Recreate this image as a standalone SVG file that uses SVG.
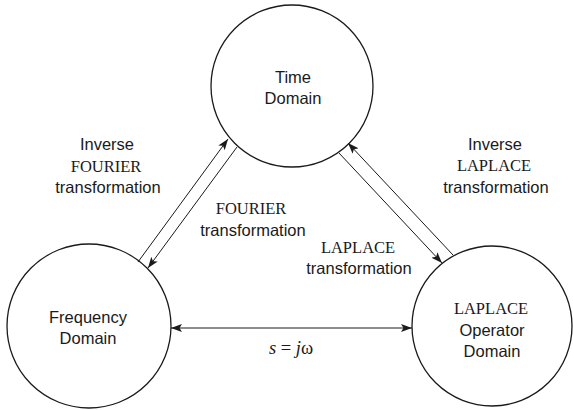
<svg xmlns="http://www.w3.org/2000/svg" width="573" height="410" viewBox="0 0 573 410">
  <style>
    .node { fill: #fff; stroke: #1a1a1a; stroke-width: 1.3; }
    .edge { stroke: #1a1a1a; stroke-width: 1; fill: none; }
    .sans { font-family: "Liberation Sans", Arial, sans-serif; font-size: 16.5px; fill: #1a1a1a; text-anchor: middle; }
    .serif { font-family: "Liberation Serif", "Times New Roman", serif; font-size: 16.5px; fill: #1a1a1a; text-anchor: middle; }
    .math { font-family: "Liberation Serif", "Times New Roman", serif; font-size: 18.5px; fill: #1a1a1a; text-anchor: middle; }
  </style>
  <defs>
    <marker id="arrow" viewBox="0 0 11 8" refX="11" refY="4" markerWidth="11" markerHeight="8" markerUnits="userSpaceOnUse" orient="auto-start-reverse">
      <path d="M0,0 L11,4 L0,8 L2.5,4 z" fill="#1a1a1a"/>
    </marker>
  </defs>
  <rect width="573" height="410" fill="#fff"/>

  <g id="time-domain">
    <circle class="node" cx="292" cy="86" r="81"/>
    <text class="sans" x="293" y="83">Time</text>
    <text class="sans" x="293" y="104">Domain</text>
  </g>

  <g id="frequency-domain">
    <circle class="node" cx="89" cy="326" r="82"/>
    <text class="sans" x="88" y="323">Frequency</text>
    <text class="sans" x="88" y="344">Domain</text>
  </g>

  <g id="laplace-domain">
    <circle class="node" cx="492" cy="326" r="80"/>
    <text class="serif" x="491" y="314">LAPLACE</text>
    <text class="sans" x="492" y="336">Operator</text>
    <text class="sans" x="492" y="357">Domain</text>
  </g>

  <g id="connectors">
    <line class="edge" x1="138" y1="262" x2="228" y2="139" marker-end="url(#arrow)"/>
    <line class="edge" x1="237" y1="147" x2="148" y2="268" marker-end="url(#arrow)"/>
    <line class="edge" x1="453" y1="255" x2="348" y2="143" marker-end="url(#arrow)"/>
    <line class="edge" x1="339" y1="153" x2="442" y2="263" marker-end="url(#arrow)"/>
    <line class="edge" x1="171" y1="328" x2="412" y2="328" marker-start="url(#arrow)" marker-end="url(#arrow)"/>
  </g>

  <g id="labels">
    <text class="sans" x="107" y="150">Inverse</text>
    <text class="serif" x="106" y="172">FOURIER</text>
    <text class="sans" x="108" y="193">transformation</text>

    <text class="serif" x="251" y="214">FOURIER</text>
    <text class="sans" x="253" y="236">transformation</text>

    <text class="sans" x="495" y="150">Inverse</text>
    <text class="serif" x="494" y="171">LAPLACE</text>
    <text class="sans" x="496" y="193">transformation</text>

    <text class="serif" x="358" y="253">LAPLACE</text>
    <text class="sans" x="359" y="274">transformation</text>

    <text class="math" x="291" y="354"><tspan font-style="italic">s</tspan> = <tspan font-style="italic">j</tspan>ω</text>
  </g>
</svg>
